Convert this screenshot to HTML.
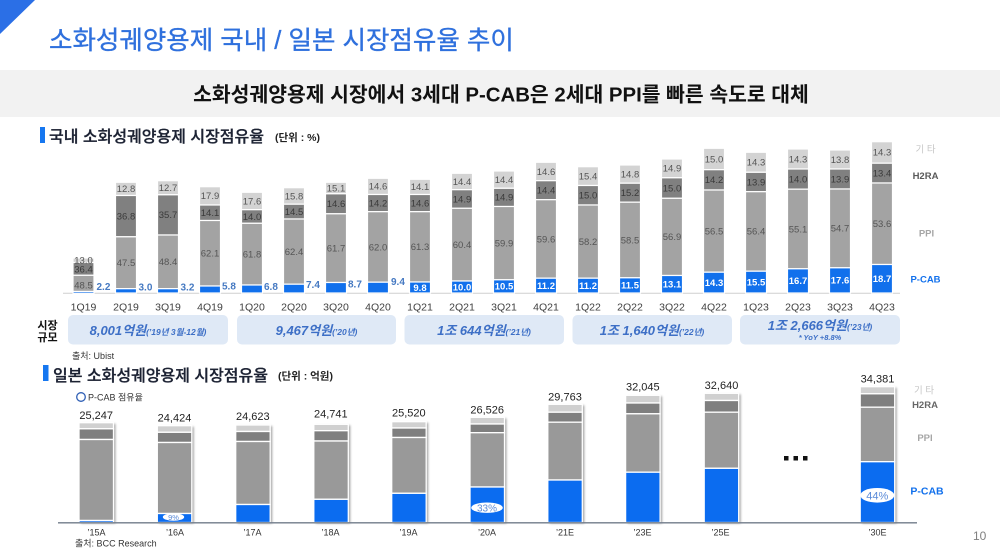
<!DOCTYPE html>
<html><head><meta charset="utf-8"><style>
html,body{margin:0;padding:0;background:#fff;}
svg{display:block;font-family:"Liberation Sans","Noto Sans CJK KR",sans-serif;}
</style></head><body>
<svg width="1000" height="556" viewBox="0 0 1000 556" xmlns="http://www.w3.org/2000/svg">
<defs>
<filter id="sh" x="-20%" y="-5%" width="150%" height="115%"><feDropShadow dx="2" dy="1" stdDeviation="1" flood-color="#000" flood-opacity="0.35"/></filter>
</defs>
<rect width="1000" height="556" fill="#fff"/>
<polygon points="0,0 35,0 0,34" fill="#2b6fe6"/>
<text x="49" y="49" font-size="25.5" fill="#2f70dd" stroke="#2f70dd" stroke-width="0.35">소화성궤양용제 국내 / 일본 시장점유율 추이</text>
<rect x="0" y="70" width="1000" height="47" fill="#f2f2f2"/>
<text x="501" y="101.5" font-size="20.4" font-weight="bold" fill="#111" text-anchor="middle">소화성궤양용제 시장에서 3세대 P-CAB은 2세대 PPI를 빠른 속도로 대체</text>

<!-- upper header -->
<rect x="40" y="127" width="5" height="16" fill="#1677f0"/>
<text x="49" y="142" font-size="16" font-weight="500" fill="#1c2233" stroke="#1c2233" stroke-width="0.3">국내 소화성궤양용제 시장점유율</text>
<text x="275" y="141" font-size="10.5" font-weight="bold" fill="#222">(단위 : %)</text>

<!-- upper chart -->
<line x1="63" y1="293.3" x2="900" y2="293.3" stroke="#cfcfcf" stroke-width="1"/>
<g stroke="#fff" stroke-width="1.2">
<rect x="73" y="258" width="21" height="4.5" fill="#d3d3d3"/><rect x="73" y="262.5" width="21" height="12.8" fill="#808080"/><rect x="73" y="275.3" width="21" height="16.2" fill="#a3a3a3"/><rect x="73" y="291.5" width="21" height="1.8" fill="#1170ec"/>
<rect x="115.5" y="182.3" width="21" height="13.2" fill="#d3d3d3"/><rect x="115.5" y="195.5" width="21" height="41.3" fill="#808080"/><rect x="115.5" y="236.8" width="21" height="51.9" fill="#a3a3a3"/><rect x="115.5" y="288.7" width="21" height="4.3" fill="#1170ec"/>
<rect x="157.5" y="180.7" width="21" height="14.1" fill="#d3d3d3"/><rect x="157.5" y="194.8" width="21" height="40.2" fill="#808080"/><rect x="157.5" y="235" width="21" height="53.7" fill="#a3a3a3"/><rect x="157.5" y="288.7" width="21" height="4.3" fill="#1170ec"/>
<rect x="199.5" y="186.7" width="21" height="18.3" fill="#d3d3d3"/><rect x="199.5" y="205" width="21" height="15.5" fill="#808080"/><rect x="199.5" y="220.5" width="21" height="65.5" fill="#a3a3a3"/><rect x="199.5" y="286" width="21" height="7" fill="#1170ec"/>
<rect x="241.5" y="192.3" width="21" height="17.4" fill="#d3d3d3"/><rect x="241.5" y="209.7" width="21" height="13.6" fill="#808080"/><rect x="241.5" y="223.3" width="21" height="61.7" fill="#a3a3a3"/><rect x="241.5" y="285" width="21" height="8" fill="#1170ec"/>
<rect x="283.5" y="187.7" width="21" height="16.5" fill="#d3d3d3"/><rect x="283.5" y="204.2" width="21" height="14.8" fill="#808080"/><rect x="283.5" y="219" width="21" height="65.2" fill="#a3a3a3"/><rect x="283.5" y="284.2" width="21" height="8.8" fill="#1170ec"/>
<rect x="325.5" y="182.3" width="21" height="11.5" fill="#d3d3d3"/><rect x="325.5" y="193.8" width="21" height="20" fill="#808080"/><rect x="325.5" y="213.8" width="21" height="68.7" fill="#a3a3a3"/><rect x="325.5" y="282.5" width="21" height="10.5" fill="#1170ec"/>
<rect x="367.5" y="178.3" width="21" height="16.2" fill="#d3d3d3"/><rect x="367.5" y="194.5" width="21" height="17.2" fill="#808080"/><rect x="367.5" y="211.7" width="21" height="70.5" fill="#a3a3a3"/><rect x="367.5" y="282.2" width="21" height="10.8" fill="#1170ec"/>
<rect x="409.5" y="179.3" width="21" height="15.2" fill="#d3d3d3"/><rect x="409.5" y="194.5" width="21" height="17.2" fill="#808080"/><rect x="409.5" y="211.7" width="21" height="70.3" fill="#a3a3a3"/><rect x="409.5" y="282" width="21" height="11" fill="#1170ec"/>
<rect x="451.5" y="173.3" width="21" height="16.4" fill="#d3d3d3"/><rect x="451.5" y="189.7" width="21" height="18.6" fill="#808080"/><rect x="451.5" y="208.3" width="21" height="72.7" fill="#a3a3a3"/><rect x="451.5" y="281" width="21" height="12" fill="#1170ec"/>
<rect x="493.5" y="171" width="21" height="17.3" fill="#d3d3d3"/><rect x="493.5" y="188.3" width="21" height="18.2" fill="#808080"/><rect x="493.5" y="206.5" width="21" height="73.3" fill="#a3a3a3"/><rect x="493.5" y="279.8" width="21" height="13.2" fill="#1170ec"/>
<rect x="535.5" y="162.3" width="21" height="18.4" fill="#d3d3d3"/><rect x="535.5" y="180.7" width="21" height="19" fill="#808080"/><rect x="535.5" y="199.7" width="21" height="78.5" fill="#a3a3a3"/><rect x="535.5" y="278.2" width="21" height="14.8" fill="#1170ec"/>
<rect x="577.5" y="166.7" width="21" height="18.8" fill="#d3d3d3"/><rect x="577.5" y="185.5" width="21" height="19.5" fill="#808080"/><rect x="577.5" y="205" width="21" height="73.2" fill="#a3a3a3"/><rect x="577.5" y="278.2" width="21" height="14.8" fill="#1170ec"/>
<rect x="619.5" y="165" width="21" height="18.2" fill="#d3d3d3"/><rect x="619.5" y="183.2" width="21" height="19" fill="#808080"/><rect x="619.5" y="202.2" width="21" height="75.6" fill="#a3a3a3"/><rect x="619.5" y="277.8" width="21" height="15.2" fill="#1170ec"/>
<rect x="661.5" y="159" width="21" height="18.8" fill="#d3d3d3"/><rect x="661.5" y="177.8" width="21" height="20.5" fill="#808080"/><rect x="661.5" y="198.3" width="21" height="77.2" fill="#a3a3a3"/><rect x="661.5" y="275.5" width="21" height="17.5" fill="#1170ec"/>
<rect x="703.5" y="148.3" width="21" height="21.4" fill="#d3d3d3"/><rect x="703.5" y="169.7" width="21" height="20.3" fill="#808080"/><rect x="703.5" y="190" width="21" height="82.2" fill="#a3a3a3"/><rect x="703.5" y="272.2" width="21" height="20.8" fill="#1170ec"/>
<rect x="745.5" y="152.3" width="21" height="20" fill="#d3d3d3"/><rect x="745.5" y="172.3" width="21" height="19.4" fill="#808080"/><rect x="745.5" y="191.7" width="21" height="79.5" fill="#a3a3a3"/><rect x="745.5" y="271.2" width="21" height="21.8" fill="#1170ec"/>
<rect x="787.5" y="149" width="21" height="20" fill="#d3d3d3"/><rect x="787.5" y="169" width="21" height="20.2" fill="#808080"/><rect x="787.5" y="189.2" width="21" height="79.6" fill="#a3a3a3"/><rect x="787.5" y="268.8" width="21" height="24.2" fill="#1170ec"/>
<rect x="829.5" y="150" width="21" height="19" fill="#d3d3d3"/><rect x="829.5" y="169" width="21" height="20" fill="#808080"/><rect x="829.5" y="189" width="21" height="78.8" fill="#a3a3a3"/><rect x="829.5" y="267.8" width="21" height="25.2" fill="#1170ec"/>
<rect x="871.5" y="141.7" width="21" height="21.5" fill="#d3d3d3"/><rect x="871.5" y="163.2" width="21" height="19.8" fill="#808080"/><rect x="871.5" y="183" width="21" height="81.5" fill="#a3a3a3"/><rect x="871.5" y="264.5" width="21" height="28.5" fill="#1170ec"/>
</g>

<g font-size="9.5" text-anchor="middle" fill="#555">
<text x="83.5" y="263.3">13.0</text><text x="83.5" y="272.3" fill="#3a3a3a">36.4</text><text x="83.5" y="288.3">48.5</text>
<text x="126" y="192.2">12.8</text><text x="126" y="219.5" fill="#3a3a3a">36.8</text><text x="126" y="266.1">47.5</text>
<text x="168" y="191.1">12.7</text><text x="168" y="218.2" fill="#3a3a3a">35.7</text><text x="168" y="265.2">48.4</text>
<text x="210" y="199.2">17.9</text><text x="210" y="216.1" fill="#3a3a3a">14.1</text><text x="210" y="256.6">62.1</text>
<text x="252" y="204.3">17.6</text><text x="252" y="219.8" fill="#3a3a3a">14.0</text><text x="252" y="257.5">61.8</text>
<text x="294" y="199.3">15.8</text><text x="294" y="214.9" fill="#3a3a3a">14.5</text><text x="294" y="254.9">62.4</text>
<text x="336" y="191.3">15.1</text><text x="336" y="207.1" fill="#3a3a3a">14.6</text><text x="336" y="251.5">61.7</text>
<text x="378" y="189.7">14.6</text><text x="378" y="206.4" fill="#3a3a3a">14.2</text><text x="378" y="250.3">62.0</text>
<text x="420" y="190.2">14.1</text><text x="420" y="206.4" fill="#3a3a3a">14.6</text><text x="420" y="250.2">61.3</text>
<text x="462" y="184.8">14.4</text><text x="462" y="202.3" fill="#3a3a3a">14.9</text><text x="462" y="248">60.4</text>
<text x="504" y="183">14.4</text><text x="504" y="200.7" fill="#3a3a3a">14.9</text><text x="504" y="246.5">59.9</text>
<text x="546" y="174.8">14.6</text><text x="546" y="193.5" fill="#3a3a3a">14.4</text><text x="546" y="242.3">59.6</text>
<text x="588" y="179.4">15.4</text><text x="588" y="198.6" fill="#3a3a3a">15.0</text><text x="588" y="244.9">58.2</text>
<text x="630" y="177.4">14.8</text><text x="630" y="196" fill="#3a3a3a">15.2</text><text x="630" y="243.3">58.5</text>
<text x="672" y="171.7">14.9</text><text x="672" y="191.3" fill="#3a3a3a">15.0</text><text x="672" y="240.2">56.9</text>
<text x="714" y="162.3">15.0</text><text x="714" y="183.1" fill="#3a3a3a">14.2</text><text x="714" y="234.4">56.5</text>
<text x="756" y="165.6">14.3</text><text x="756" y="185.3" fill="#3a3a3a">13.9</text><text x="756" y="234.7">56.4</text>
<text x="798" y="162.3">14.3</text><text x="798" y="182.4" fill="#3a3a3a">14.0</text><text x="798" y="232.3">55.1</text>
<text x="840" y="162.8">13.8</text><text x="840" y="182.3" fill="#3a3a3a">13.9</text><text x="840" y="231.7">54.7</text>
<text x="882" y="155.7">14.3</text><text x="882" y="176.4" fill="#3a3a3a">13.4</text><text x="882" y="227">53.6</text>
</g>
<g font-size="10" font-weight="bold" fill="#4579c2">
<text x="96.5" y="290">2.2</text><text x="138.5" y="290.5">3.0</text><text x="180.5" y="290.5">3.2</text><text x="222" y="289.5">5.8</text>
<text x="264" y="290">6.8</text><text x="306" y="288">7.4</text><text x="348" y="287.5">8.7</text><text x="391" y="285">9.4</text>
</g>
<g font-size="9.5" font-weight="bold" fill="#fff" text-anchor="middle">
<text x="420" y="290.8">9.8</text><text x="462" y="290.3">10.0</text><text x="504" y="289.7">10.5</text><text x="546" y="288.9">11.2</text>
<text x="588" y="288.9">11.2</text><text x="630" y="288.7">11.5</text><text x="672" y="287.5">13.1</text><text x="714" y="285.9">14.3</text>
<text x="756" y="285.4">15.5</text><text x="798" y="284.2">16.7</text><text x="840" y="283.7">17.6</text><text x="882" y="282.1">18.7</text>
</g>
<g font-size="10.5" text-anchor="middle" fill="#404040">
<text x="83.5" y="310.5">1Q19</text><text x="126" y="310.5">2Q19</text><text x="168" y="310.5">3Q19</text><text x="210" y="310.5">4Q19</text>
<text x="252" y="310.5">1Q20</text><text x="294" y="310.5">2Q20</text><text x="336" y="310.5">3Q20</text><text x="378" y="310.5">4Q20</text>
<text x="420" y="310.5">1Q21</text><text x="462" y="310.5">2Q21</text><text x="504" y="310.5">3Q21</text><text x="546" y="310.5">4Q21</text>
<text x="588" y="310.5">1Q22</text><text x="630" y="310.5">2Q22</text><text x="672" y="310.5">3Q22</text><text x="714" y="310.5">4Q22</text>
<text x="756" y="310.5">1Q23</text><text x="798" y="310.5">2Q23</text><text x="840" y="310.5">3Q23</text><text x="882" y="310.5">4Q23</text>
</g>
<g font-size="9.5" font-weight="bold" text-anchor="middle">
<text x="925.5" y="152.5" fill="#c6c6c6" font-weight="normal">기 타</text>
<text x="925.5" y="179" fill="#595959">H2RA</text>
<text x="926.5" y="236.5" fill="#a6a6a6">PPI</text>
<text x="925.5" y="282.5" fill="#1170ec">P-CAB</text>
</g>

<!-- market size -->
<text x="47.5" y="329" font-size="11" font-weight="bold" fill="#111" text-anchor="middle">시장</text>
<text x="47.5" y="341" font-size="11" font-weight="bold" fill="#111" text-anchor="middle">규모</text>
<g fill="#dfe9f6">
<rect x="68" y="315" width="160" height="29.5" rx="5"/>
<rect x="237" y="315" width="159" height="29.5" rx="5"/>
<rect x="404.5" y="315" width="159.5" height="29.5" rx="5"/>
<rect x="572.5" y="315" width="159.5" height="29.5" rx="5"/>
<rect x="740" y="315" width="160" height="29.5" rx="5"/>
</g>
<g font-weight="bold" font-style="italic" fill="#3d6fc6" text-anchor="middle">
<text x="148" y="335" font-size="13">8,001억원<tspan font-size="8.5">(’19년 3월-12월)</tspan></text>
<text x="316.5" y="335" font-size="13">9,467억원<tspan font-size="8.5">(’20년)</tspan></text>
<text x="484" y="335" font-size="13">1조 644억원<tspan font-size="8.5">(’21년)</tspan></text>
<text x="652" y="335" font-size="13">1조 1,640억원<tspan font-size="8.5">(’22년)</tspan></text>
<text x="820" y="330" font-size="13">1조 2,666억원<tspan font-size="8.5">(’23년)</tspan></text>
<text x="820" y="340" font-size="7.5">* YoY +8.8%</text>
</g>
<text x="72" y="359" font-size="9" fill="#333">출처: Ubist</text>

<!-- lower header -->
<rect x="43" y="365" width="5.5" height="16" fill="#1677f0"/>
<text x="53" y="381" font-size="16" font-weight="500" fill="#1c2233" stroke="#1c2233" stroke-width="0.3">일본 소화성궤양용제 시장점유율</text>
<text x="278" y="379.5" font-size="10.5" font-weight="bold" fill="#222">(단위 : 억원)</text>

<circle cx="81" cy="397" r="4.3" fill="#fff" stroke="#2f5fb5" stroke-width="1.3"/>
<text x="88" y="400.5" font-size="9" fill="#333">P-CAB 점유율</text>

<g filter="url(#sh)">
<rect x="79" y="422.7" width="34.5" height="99.8" fill="#999"/>
<rect x="157.3" y="425.7" width="34.5" height="96.8" fill="#999"/>
<rect x="235.7" y="425" width="34.5" height="97.5" fill="#999"/>
<rect x="313.8" y="424.3" width="34.5" height="98.2" fill="#999"/>
<rect x="391.7" y="421.7" width="34.5" height="100.8" fill="#999"/>
<rect x="470" y="417.3" width="34.5" height="105.2" fill="#999"/>
<rect x="547.8" y="404.3" width="34.5" height="118.2" fill="#999"/>
<rect x="625.6" y="395.3" width="34.5" height="127.2" fill="#999"/>
<rect x="704.2" y="393.3" width="34.5" height="129.2" fill="#999"/>
<rect x="860.2" y="386.7" width="34.5" height="135.8" fill="#999"/>
</g>
<g stroke="#fff" stroke-width="1.3">
<rect x="79" y="422.7" width="34.5" height="6.1" fill="#d0d0d0"/><rect x="79" y="428.8" width="34.5" height="10.7" fill="#7f7f7f"/><rect x="79" y="439.5" width="34.5" height="81" fill="#999"/><rect x="79" y="520.5" width="34.5" height="2" fill="#0b6cf0"/>
<rect x="157.3" y="425.7" width="34.5" height="6.6" fill="#d0d0d0"/><rect x="157.3" y="432.3" width="34.5" height="10.2" fill="#7f7f7f"/><rect x="157.3" y="442.5" width="34.5" height="71" fill="#999"/><rect x="157.3" y="513.5" width="34.5" height="9" fill="#0b6cf0"/>
<rect x="235.7" y="425" width="34.5" height="6.5" fill="#d0d0d0"/><rect x="235.7" y="431.5" width="34.5" height="10" fill="#7f7f7f"/><rect x="235.7" y="441.5" width="34.5" height="63" fill="#999"/><rect x="235.7" y="504.5" width="34.5" height="18" fill="#0b6cf0"/>
<rect x="313.8" y="424.3" width="34.5" height="6.4" fill="#d0d0d0"/><rect x="313.8" y="430.7" width="34.5" height="10.3" fill="#7f7f7f"/><rect x="313.8" y="441" width="34.5" height="58.3" fill="#999"/><rect x="313.8" y="499.3" width="34.5" height="23.2" fill="#0b6cf0"/>
<rect x="391.7" y="421.7" width="34.5" height="6.3" fill="#d0d0d0"/><rect x="391.7" y="428" width="34.5" height="9.5" fill="#7f7f7f"/><rect x="391.7" y="437.5" width="34.5" height="55.8" fill="#999"/><rect x="391.7" y="493.3" width="34.5" height="29.2" fill="#0b6cf0"/>
<rect x="470" y="417.3" width="34.5" height="6.7" fill="#d0d0d0"/><rect x="470" y="424" width="34.5" height="8.7" fill="#7f7f7f"/><rect x="470" y="432.7" width="34.5" height="54.3" fill="#999"/><rect x="470" y="487" width="34.5" height="35.5" fill="#0b6cf0"/>
<rect x="547.8" y="404.3" width="34.5" height="7.9" fill="#d0d0d0"/><rect x="547.8" y="412.2" width="34.5" height="10" fill="#7f7f7f"/><rect x="547.8" y="422.2" width="34.5" height="57.8" fill="#999"/><rect x="547.8" y="480" width="34.5" height="42.5" fill="#0b6cf0"/>
<rect x="625.6" y="395.3" width="34.5" height="7.7" fill="#d0d0d0"/><rect x="625.6" y="403" width="34.5" height="10.8" fill="#7f7f7f"/><rect x="625.6" y="413.8" width="34.5" height="58.4" fill="#999"/><rect x="625.6" y="472.2" width="34.5" height="50.3" fill="#0b6cf0"/>
<rect x="704.2" y="393.3" width="34.5" height="7.2" fill="#d0d0d0"/><rect x="704.2" y="400.5" width="34.5" height="11.7" fill="#7f7f7f"/><rect x="704.2" y="412.2" width="34.5" height="56.1" fill="#999"/><rect x="704.2" y="468.3" width="34.5" height="54.2" fill="#0b6cf0"/>
<rect x="860.2" y="386.7" width="34.5" height="7.1" fill="#d0d0d0"/><rect x="860.2" y="393.8" width="34.5" height="13.4" fill="#7f7f7f"/><rect x="860.2" y="407.2" width="34.5" height="54.5" fill="#999"/><rect x="860.2" y="461.7" width="34.5" height="60.8" fill="#0b6cf0"/>
</g>
<line x1="58" y1="522.8" x2="917" y2="522.8" stroke="#707b8a" stroke-width="1.4"/>

<ellipse cx="173.5" cy="517" rx="10.7" ry="3.8" fill="#fff"/>
<text x="173.5" y="519.8" font-size="7.5" fill="#5a8ad8" text-anchor="middle">9%</text>
<ellipse cx="487" cy="507.7" rx="15.8" ry="5.2" fill="#fff"/>
<text x="487" y="511.3" font-size="10" fill="#5a8ad8" text-anchor="middle">33%</text>
<ellipse cx="877.3" cy="495.3" rx="17" ry="7.3" fill="#fff"/>
<text x="877.3" y="499.3" font-size="11" fill="#5a8ad8" text-anchor="middle">44%</text>

<g font-size="11" fill="#222" text-anchor="middle">
<text x="96.2" y="419">25,247</text>
<text x="174.5" y="421.7">24,424</text>
<text x="252.8" y="420">24,623</text>
<text x="330.8" y="417.3">24,741</text>
<text x="408.8" y="416.3">25,520</text>
<text x="487.2" y="413.3">26,526</text>
<text x="565" y="400.7">29,763</text>
<text x="642.8" y="390.7">32,045</text>
<text x="721.5" y="389">32,640</text>
<text x="877.5" y="382.3">34,381</text>
</g>
<g font-size="9" fill="#333" text-anchor="middle">
<text x="96.5" y="535.5">’15A</text><text x="175" y="535.5">’16A</text><text x="252.5" y="535.5">’17A</text>
<text x="330.5" y="535.5">’18A</text><text x="408.5" y="535.5">’19A</text><text x="487" y="535.5">’20A</text>
<text x="565" y="535.5">’21E</text><text x="642.5" y="535.5">’23E</text><text x="720.5" y="535.5">’25E</text>
<text x="877.5" y="535.5">’30E</text>
</g>
<text x="75" y="546.5" font-size="9" fill="#333">출처: BCC Research</text>

<rect x="784" y="456" width="4.5" height="4.5" fill="#111"/>
<rect x="793.5" y="456" width="4.5" height="4.5" fill="#111"/>
<rect x="803" y="456" width="4.5" height="4.5" fill="#111"/>

<g font-size="9.5" font-weight="bold" text-anchor="middle">
<text x="924" y="393.5" fill="#c6c6c6" font-weight="normal">기 타</text>
<text x="925" y="407.8" fill="#666">H2RA</text>
<text x="925" y="440.8" fill="#a6a6a6">PPI</text>
<text x="927" y="494.5" fill="#1170ec" font-size="10.5">P-CAB</text>
</g>

<text x="973" y="540" font-size="12" fill="#808080">10</text>
</svg>
</body></html>
